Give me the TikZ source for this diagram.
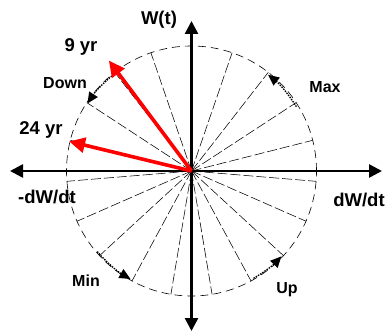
\documentclass[tikz,border=0pt]{standalone}
\usepackage{fontspec}
\setmainfont{Liberation Sans}
\usetikzlibrary{arrows.meta,calc}
\definecolor{vred}{RGB}{255,0,0}
\begin{document}
\begin{tikzpicture}[x=1pt,y=1pt,
  axis/.style={line width=2.6pt,{Triangle[length=13pt,width=13pt]}-{Triangle[length=13pt,width=13pt]}},
  rim/.style={line width=0.6pt,dash pattern=on 8pt off 5pt},
  spoke/.style={line width=0.55pt,dash pattern=on 10pt off 3pt},
  yr/.style={line width=3.6pt,vred,-{Triangle[length=16pt,width=15pt]}},
  cyc/.style={line width=1.3pt,dash pattern=on 1.5pt off 1.1pt,-{Triangle[length=11pt,width=10pt]}},
  big/.style={font=\bfseries\fontsize{18.5}{20}\selectfont,inner sep=0pt},
  small/.style={font=\bfseries\fontsize{16}{18}\selectfont,inner sep=0pt}]
\useasboundingbox (0,0) rectangle (387,332);
\coordinate (C) at (191.5,161);
\draw[rim] (C) circle (125);
\foreach \k in {1,...,18} \draw[spoke] (C) -- ++({90-\k*360/19}:125);
% axes
\coordinate (L) at (10,161);
\coordinate (R) at (382,161);
\coordinate (T) at (191.5,311);
\coordinate (B) at (191.5,1);
\draw[axis] (L) -- (R);
\draw[axis] (B) -- (T);
% cycle arrows
\draw[cyc] ([shift={(31.5:123)}]C) arc (31.5:51.5:123);
\draw[cyc] ([shift={(127.5:124)}]C) arc (127.5:147:124);
\draw[cyc] ([shift={(-139.5:124)}]C) arc (-139.5:-119.5:124);
\draw[cyc] ([shift={(-60:124)}]C) arc (-60:-43.5:124);
% red arrows
\coordinate (P9) at ($(C)+(126.8:138)$);
\coordinate (P24) at ($(C)+(166.4:126)$);
\draw[yr] (C) -- (P9);
\draw[yr] (C) -- (P24);
% labels
\node[big] (wt) at (159,312) {W(t)};
\node[big] (l9) at (81,285) {9 yr};
\node[small] (down) at (65,249) {Down};
\node[big] (l24) at (41,202) {24 yr};
\node[big] (mdw) at (47,135) {-dW/dt};
\node[big] (dw) at (359,132) {dW/dt};
\node[small] (max) at (325,245) {Max};
\node[small] (min) at (86,51) {Min};
\node[small] (up) at (287,42) {Up};
\end{tikzpicture}
\end{document}
